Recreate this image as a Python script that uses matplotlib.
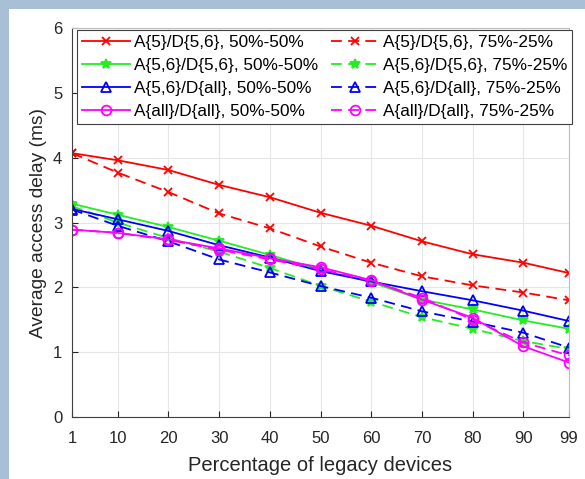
import matplotlib.pyplot as plt
from matplotlib.patches import Rectangle

plt.rcParams['font.family'] = ['Liberation Sans', 'DejaVu Sans']

x = [1, 10, 20, 30, 40, 50, 60, 70, 80, 90, 99]

red_50 = [4.07, 3.96, 3.81, 3.58, 3.39, 3.15, 2.95, 2.71, 2.51, 2.38, 2.22]
green_50 = [3.29, 3.12, 2.93, 2.72, 2.5, 2.27, 2.08, 1.81, 1.66, 1.49, 1.36]
blue_50 = [3.21, 3.05, 2.87, 2.65, 2.46, 2.25, 2.09, 1.94, 1.8, 1.64, 1.48]
mag_50 = [2.89, 2.84, 2.74, 2.6, 2.45, 2.31, 2.11, 1.81, 1.53, 1.09, 0.84]

red_75 = [4.07, 3.77, 3.47, 3.14, 2.91, 2.63, 2.38, 2.17, 2.03, 1.92, 1.8]
green_75 = [3.25, 3.0, 2.76, 2.55, 2.3, 2.02, 1.78, 1.54, 1.36, 1.17, 1.05]
blue_75 = [3.2, 2.95, 2.71, 2.43, 2.23, 2.02, 1.84, 1.63, 1.47, 1.3, 1.07]
mag_75 = [2.89, 2.84, 2.73, 2.58, 2.43, 2.28, 2.1, 1.84, 1.5, 1.15, 0.95]

labels = ["A{5}/D{5,6}, 50%-50%", "A{5}/D{5,6}, 75%-25%",
          "A{5,6}/D{5,6}, 50%-50%", "A{5,6}/D{5,6}, 75%-25%",
          "A{5,6}/D{all}, 50%-50%", "A{5,6}/D{all}, 75%-25%",
          "A{all}/D{all}, 50%-50%", "A{all}/D{all}, 75%-25%"]

fig = plt.figure(figsize=(5.85, 4.79), dpi=100, facecolor='#a9bfd6')
bg = Rectangle((9 / 585, 0), 1, (479 - 9) / 479, transform=fig.transFigure,
               facecolor='white', edgecolor='none', zorder=-10)
fig.add_artist(bg)
ax = fig.add_axes([72 / 585, (479 - 417) / 479, (569 - 72) / 585, (417 - 28) / 479])
ax.set_zorder(1)

# colour, marker, marker size
series = [(red_50, red_75, 'red', 'x', 6), (green_50, green_75, '#22ee22', '*', 7),
          (blue_50, blue_75, 'blue', '^', 7.5), (mag_50, mag_75, 'magenta', 'o', 7)]
handles = []
for s50, s75, c, m, ms in series:
    fc = 'none' if m in '^o' else c
    h1, = ax.plot(x, s50, color=c, marker=m, ms=ms, lw=1.3, mfc=fc, mew=1.3)
    h2, = ax.plot(x, s75, color=c, marker=m, ms=ms, lw=1.3, ls=(0, (6, 3.5)),
                  mfc=fc, mew=1.3)
    handles += [h1, h2]

ax.set_xlim(1, 99)
ax.set_ylim(0, 6)
ax.set_xticks(x)
ax.set_yticks(range(7))
ax.grid(True, color='#e6e6e6', lw=0.8)
ax.set_axisbelow(True)
for sp in ['top', 'right']:
    ax.spines[sp].set_color('#bdbdbd')
for sp in ['left', 'bottom']:
    ax.spines[sp].set_color('#404040')
ax.tick_params(labelsize=12, colors='#262626', direction='in', length=4)
ax.tick_params(axis='x', pad=10)
ax.tick_params(axis='y', pad=7)
ax.set_xlabel('Percentage of legacy devices', fontsize=14.5, color='#262626', labelpad=7)
ax.set_ylabel('Average access delay (ms)', fontsize=13.8, color='#262626', labelpad=4)

order = [0, 2, 4, 6, 1, 3, 5, 7]
leg = ax.legend([handles[i] for i in order], [labels[i] for i in order], ncol=2,
                loc='upper left', bbox_to_anchor=(0.01, 0.995), fontsize=12.4,
                handlelength=2.8, handletextpad=0.2, columnspacing=0.75,
                labelspacing=0.45, borderpad=0.3, fancybox=False, framealpha=1,
                edgecolor='#404040', borderaxespad=0)
leg.get_frame().set_linewidth(0.8)

fig.savefig('out.png', dpi=100, facecolor=fig.get_facecolor())
